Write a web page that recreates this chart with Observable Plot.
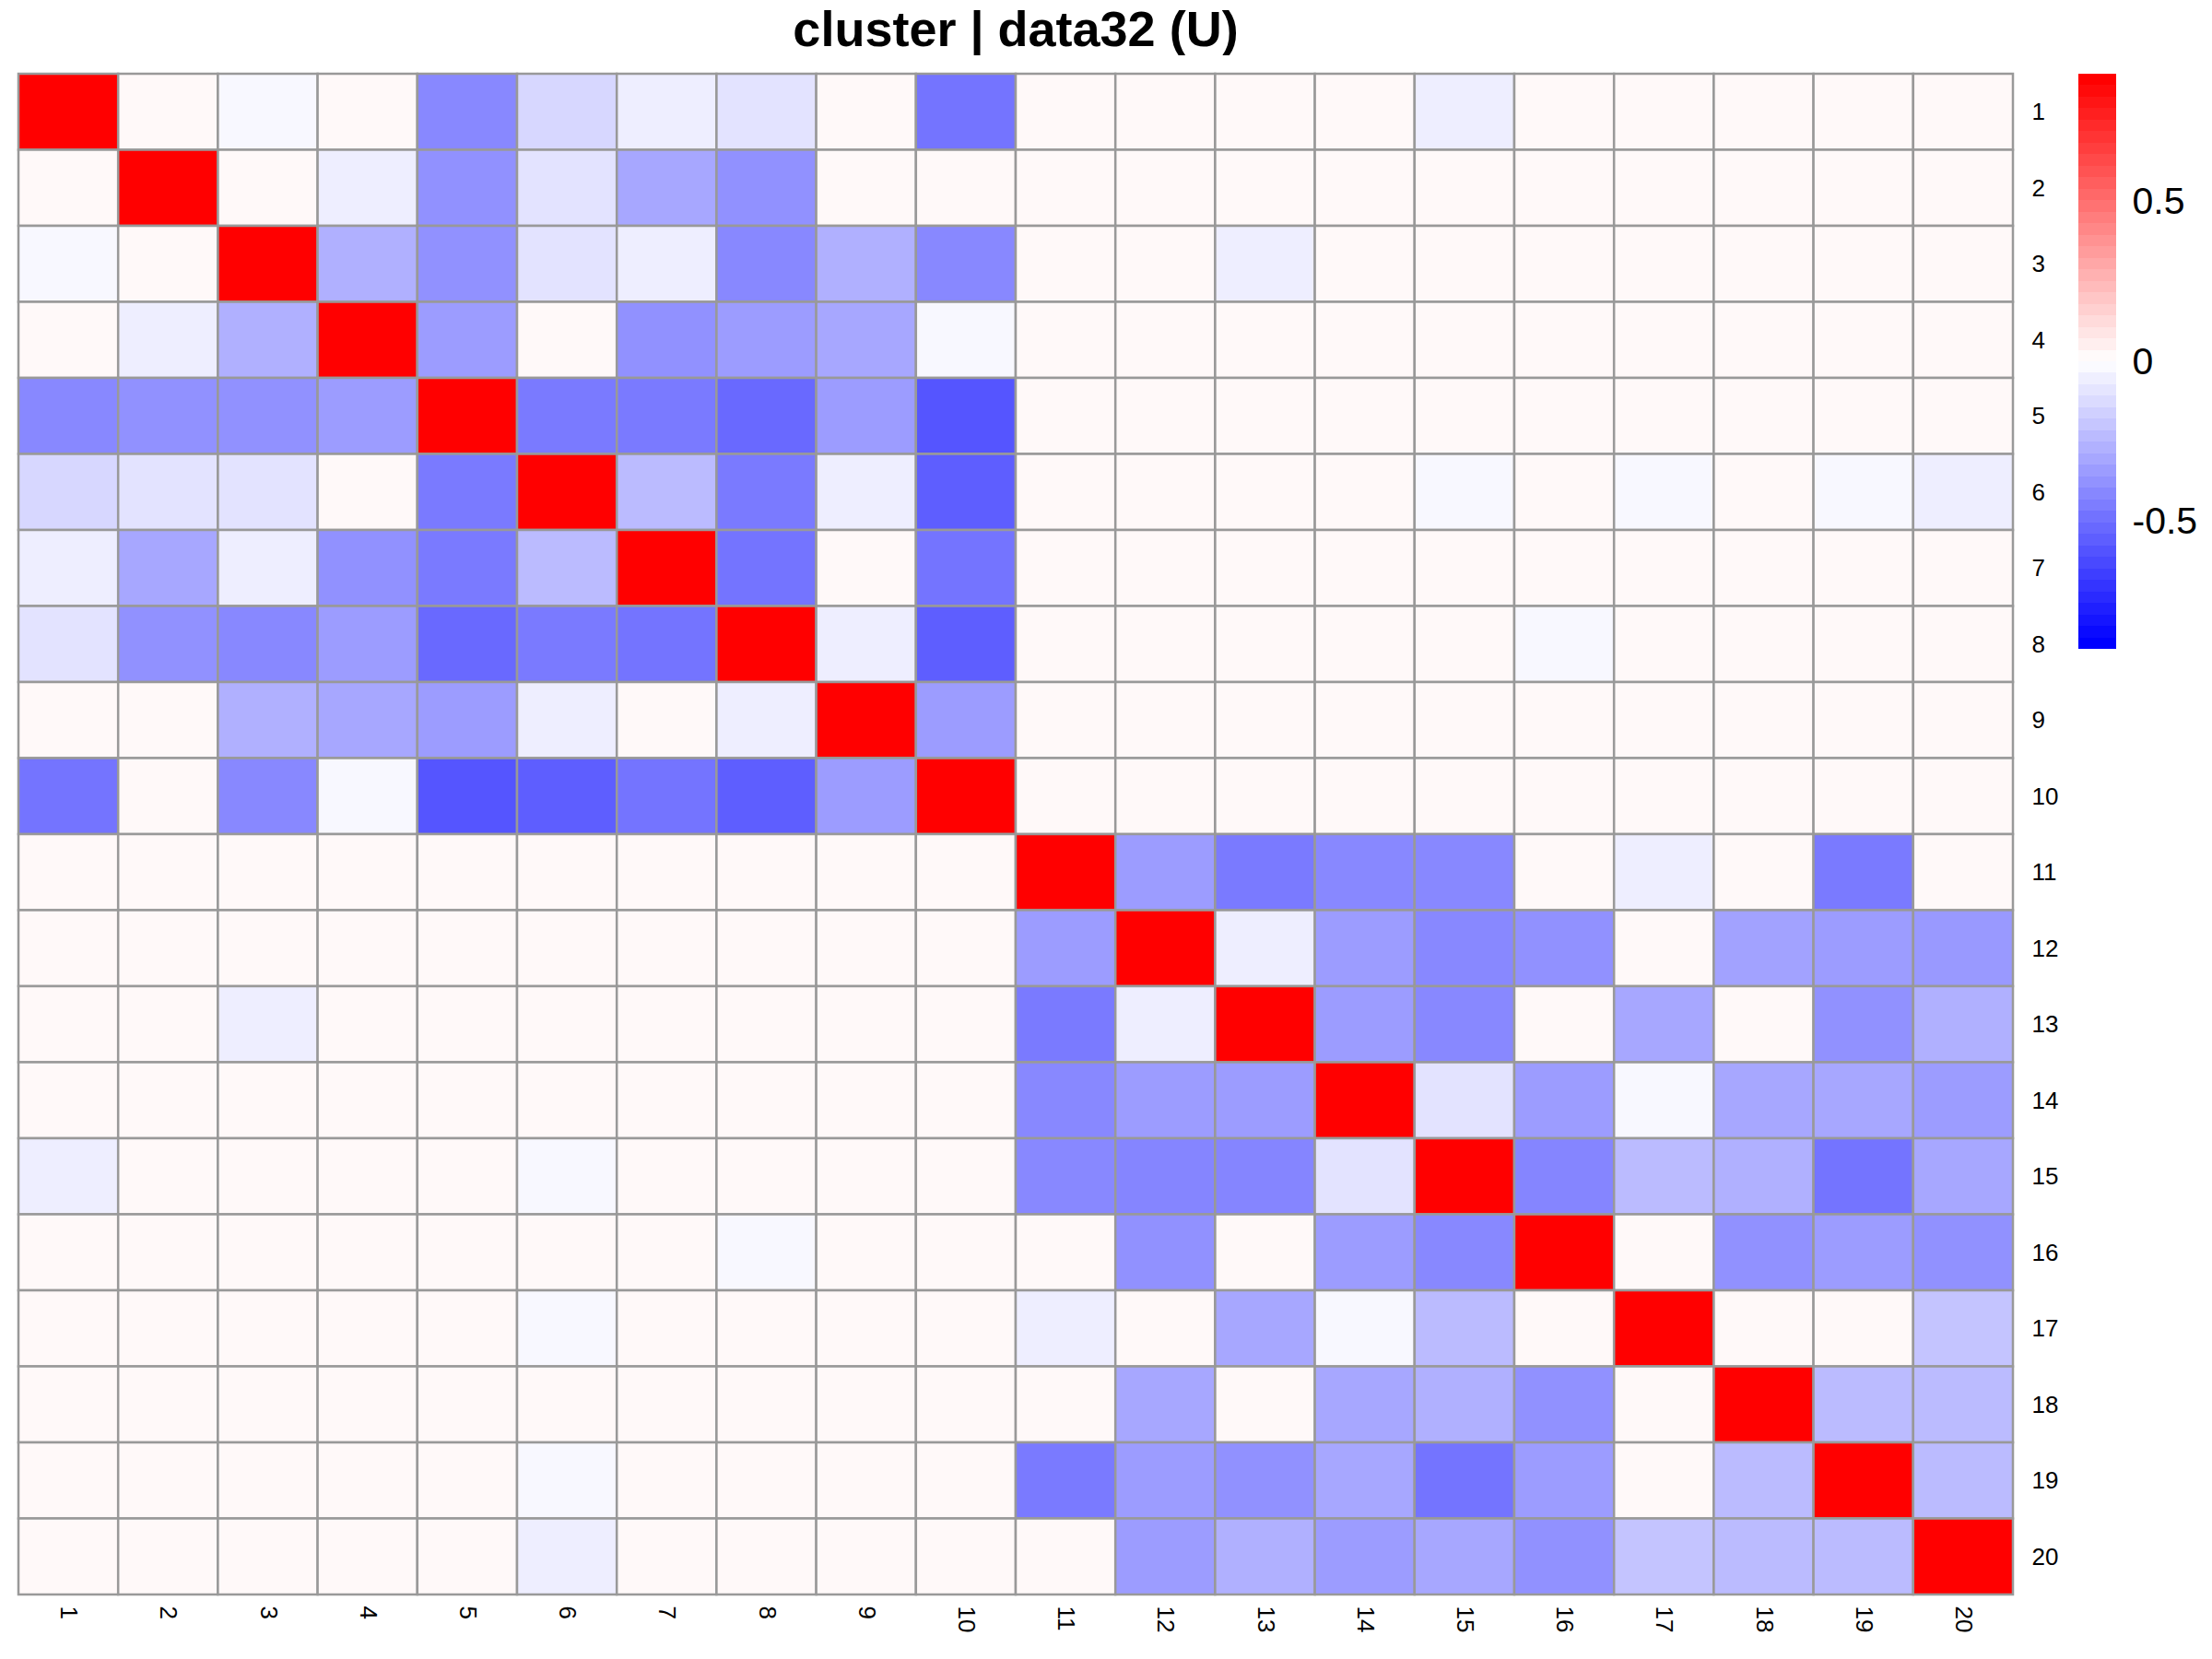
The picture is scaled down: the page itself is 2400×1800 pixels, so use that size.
<!DOCTYPE html>
<html><head><meta charset="utf-8">
<script src="https://cdn.jsdelivr.net/npm/d3@7"></script>
<script src="https://cdn.jsdelivr.net/npm/@observablehq/plot@0.6"></script>
<style>
body{margin:0;background:#fff;}
#wrap{position:relative;width:2400px;height:1800px;font-family:"Liberation Sans",Arial,sans-serif;}
#title{position:absolute;left:0;top:0;width:2204px;text-align:center;font-weight:bold;font-size:54px;line-height:62px;color:#000;}
#main{position:absolute;left:0;top:60px;}
#legend{position:absolute;left:2255px;top:60px;}
</style></head><body>
<div id="wrap"><div id="title">cluster | data32 (U)</div><div id="main"></div><div id="legend"></div></div>
<script>
const labels = ["1","2","3","4","5","6","7","8","9","10","11","12","13","14","15","16","17","18","19","20"];
const row1  = [1, .02, -.025, .02, -.42, -.14, -.06, -.10, .02, -.49, .02, .02, .02, .02, -.06, .02, .02, .02, .02, .02];
const row2  = [.02, 1, .02, -.06, -.39, -.10, -.31, -.39, .02, .02, .02, .02, .02, .02, .02, .02, .02, .02, .02, .02];
const row3  = [-.025, .02, 1, -.28, -.39, -.10, -.06, -.42, -.28, -.42, .02, .02, -.06, .02, .02, .02, .02, .02, .02, .02];
const row4  = [.02, -.06, -.28, 1, -.35, .02, -.39, -.35, -.31, -.025, .02, .02, .02, .02, .02, .02, .02, .02, .02, .02];
const row5  = [-.42, -.39, -.39, -.35, 1, -.47, -.47, -.53, -.35, -.60, .02, .02, .02, .02, .02, .02, .02, .02, .02, .02];
const row6  = [-.14, -.10, -.10, .02, -.47, 1, -.24, -.47, -.06, -.57, .02, .02, .02, .02, -.025, .02, -.025, .02, -.025, -.06];
const row7  = [-.06, -.31, -.06, -.39, -.47, -.24, 1, -.49, .02, -.49, .02, .02, .02, .02, .02, .02, .02, .02, .02, .02];
const row8  = [-.10, -.39, -.42, -.35, -.53, -.47, -.49, 1, -.06, -.57, .02, .02, .02, .02, .02, -.025, .02, .02, .02, .02];
const row9  = [.02, .02, -.28, -.31, -.35, -.06, .02, -.06, 1, -.35, .02, .02, .02, .02, .02, .02, .02, .02, .02, .02];
const row10 = [-.49, .02, -.42, -.025, -.60, -.57, -.49, -.57, -.35, 1, .02, .02, .02, .02, .02, .02, .02, .02, .02, .02];
const row11 = [.02, .02, .02, .02, .02, .02, .02, .02, .02, .02, 1, -.35, -.47, -.42, -.42, .02, -.06, .02, -.47, .02];
const row12 = [.02, .02, .02, .02, .02, .02, .02, .02, .02, .02, -.35, 1, -.06, -.35, -.42, -.39, .02, -.33, -.35, -.36];
const row13 = [.02, .02, -.06, .02, .02, .02, .02, .02, .02, .02, -.47, -.06, 1, -.35, -.42, .02, -.31, .02, -.39, -.28];
const row14 = [.02, .02, .02, .02, .02, .02, .02, .02, .02, .02, -.42, -.35, -.35, 1, -.10, -.35, -.025, -.31, -.31, -.35];
const row15 = [-.06, .02, .02, .02, .02, -.025, .02, .02, .02, .02, -.42, -.43, -.43, -.10, 1, -.43, -.24, -.28, -.49, -.31];
const row16 = [.02, .02, .02, .02, .02, .02, .02, -.025, .02, .02, .02, -.39, .02, -.35, -.42, 1, .02, -.39, -.35, -.39];
const row17 = [.02, .02, .02, .02, .02, -.025, .02, .02, .02, .02, -.06, .02, -.31, -.025, -.24, .02, 1, .02, .02, -.21];
const row18 = [.02, .02, .02, .02, .02, .02, .02, .02, .02, .02, .02, -.31, .02, -.31, -.28, -.39, .02, 1, -.24, -.24];
const row19 = [.02, .02, .02, .02, .02, -.025, .02, .02, .02, .02, -.47, -.35, -.39, -.31, -.49, -.35, .02, -.24, 1, -.24];
const row20 = [.02, .02, .02, .02, .02, -.06, .02, .02, .02, .02, .02, -.35, -.28, -.35, -.31, -.39, -.21, -.24, -.24, 1];
const legendTicks = [-0.5, 0, 0.5];
const colorDomain = [-0.9, 0, 0.9];
const colorRange = ["#0000FF", "#FFFFFF", "#FF0000"];

const matrix = [row1,row2,row3,row4,row5,row6,row7,row8,row9,row10,row11,row12,row13,row14,row15,row16,row17,row18,row19,row20];
const cells = [];
matrix.forEach((r, i) => r.forEach((v, j) => cells.push({row: labels[i], col: labels[j], value: v})));

const color = {type: "linear", domain: colorDomain, range: colorRange, clamp: true, interpolate: "rgb"};
const font = '"Liberation Sans", Arial, sans-serif';

const main = Plot.plot({
  width: 2260, height: 1740,
  marginTop: 20, marginLeft: 20, marginRight: 76, marginBottom: 70,
  style: {fontFamily: font, fontSize: "26px", color: "#000", background: "#fff", overflow: "visible"},
  x: {type: "band", domain: labels, padding: 0, round: false, axis: "bottom", tickSize: 0, tickPadding: 12, tickRotate: 90, label: null},
  y: {type: "band", domain: labels, padding: 0, round: false, axis: "right", tickSize: 0, tickPadding: 20, label: null},
  color,
  marks: [
    Plot.cell(cells, {x: "col", y: "row", fill: "value", stroke: "#999999", strokeWidth: 2.5, inset: 0})
  ]
});
document.getElementById("main").appendChild(main);

const nSteps = 50;
const step = (colorDomain[2] - colorDomain[0]) / nSteps;
const legendSteps = d3.range(nSteps).map(i => ({lo: colorDomain[0] + i * step, hi: colorDomain[0] + (i + 1) * step, v: colorDomain[0] + i * (colorDomain[2] - colorDomain[0]) / (nSteps - 1)}));

const legend = Plot.plot({
  width: 145, height: 700,
  marginTop: 20, marginBottom: 56, marginLeft: 0, marginRight: 104,
  style: {fontFamily: font, fontSize: "41px", color: "#000", background: "#fff", overflow: "visible"},
  x: {domain: [0, 1], axis: null},
  y: {domain: [colorDomain[0], colorDomain[2]], axis: "right", ticks: legendTicks, tickFormat: d => String(d), tickSize: 0, tickPadding: 17, label: null},
  color,
  marks: [
    Plot.rect(legendSteps, {x1: 0, x2: 1, y1: "lo", y2: "hi", fill: "v", shapeRendering: "crispEdges"})
  ]
});
document.getElementById("legend").appendChild(legend);
</script>
</body></html>
